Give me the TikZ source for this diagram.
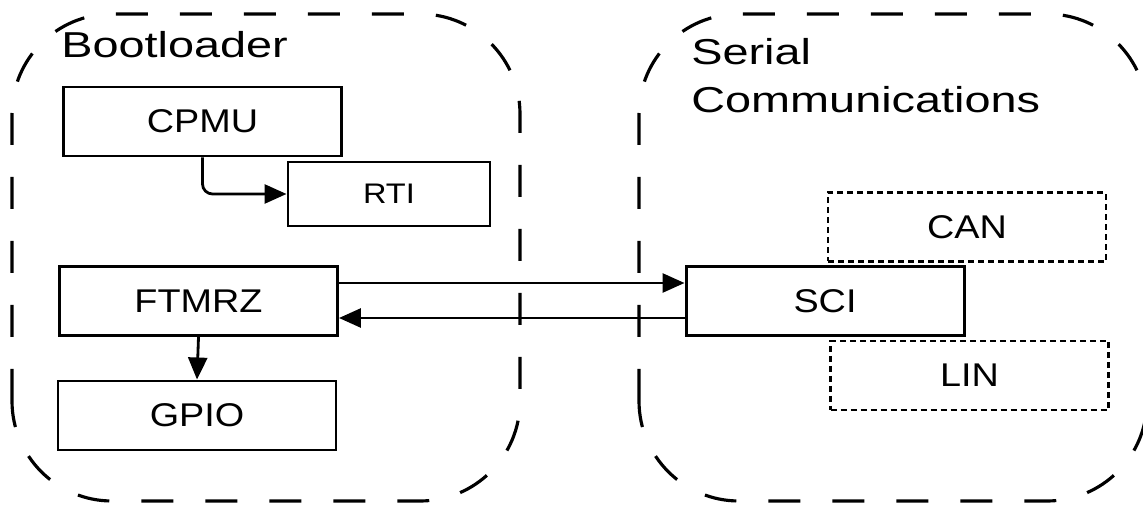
\documentclass[tikz,border=0pt]{standalone}
\usepackage{fontspec}
\setmainfont{Liberation Sans}[FakeStretch=1.15]
\newfontfamily\groupfont{Liberation Sans}[FakeStretch=1.3]
\usetikzlibrary{arrows.meta}

\begin{document}
\begin{tikzpicture}[>={Triangle[length=0.44cm, width=0.38cm]},
  block/.style={draw, line width=1.7pt, minimum width=5.56cm,
    minimum height=1.38cm, inner sep=0pt, font=\fontsize{18.7}{22}\selectfont},
  option/.style={block, line width=1.5pt, dash pattern=on 0.12cm off 0.08cm},
  group/.style={draw, line width=1.8pt, dash pattern=on 0.64cm off 0.64cm,
    rounded corners=2cm},
  title/.style={anchor=north west, inner sep=0pt, align=left,
    font=\groupfont\fontsize{20.5}{27.3}\selectfont},
  link/.style={->, line width=1.6pt}]
  \useasboundingbox (0,0) rectangle (22.86,10.16);

  % Dashed group outlines
  \draw[group] (0.24,0.14) rectangle (10.40,9.88);
  \draw[group] (12.78,0.14) rectangle (22.94,9.88);
  \node[title] (boot) at (1.22,9.54) {Bootloader};
  \node[title] (serial) at (13.82,9.40) {Serial\\Communications};

  % Bootloader modules
  \node[block] (cpmu) at (4.05,7.73) {CPMU};
  \node[block, minimum width=4.04cm, minimum height=1.28cm,
    font=\fontsize{16.1}{19}\selectfont] (rti) at (7.78,6.28) {RTI};
  \node[block] (ftmrz) at (3.97,4.14) {FTMRZ};
  \node[block] (gpio) at (3.94,1.85) {GPIO};

  % Serial modules (CAN and LIN are optional)
  \node[block] (sci) at (16.5,4.14) {SCI};
  \node[option] (can) at (19.34,5.62) {CAN};
  \node[option] (lin) at (19.39,2.65) {LIN};

  % Connections
  \draw[link, rounded corners=0.2cm] (cpmu.south) |- (rti.west);
  \draw[link] (ftmrz.south) -- (gpio.north);
  \draw[link] ([yshift=0.36cm]ftmrz.east) -- ([yshift=0.36cm]sci.west);
  \draw[link] ([yshift=-0.34cm]sci.west) -- ([yshift=-0.34cm]ftmrz.east);
\end{tikzpicture}
\end{document}
